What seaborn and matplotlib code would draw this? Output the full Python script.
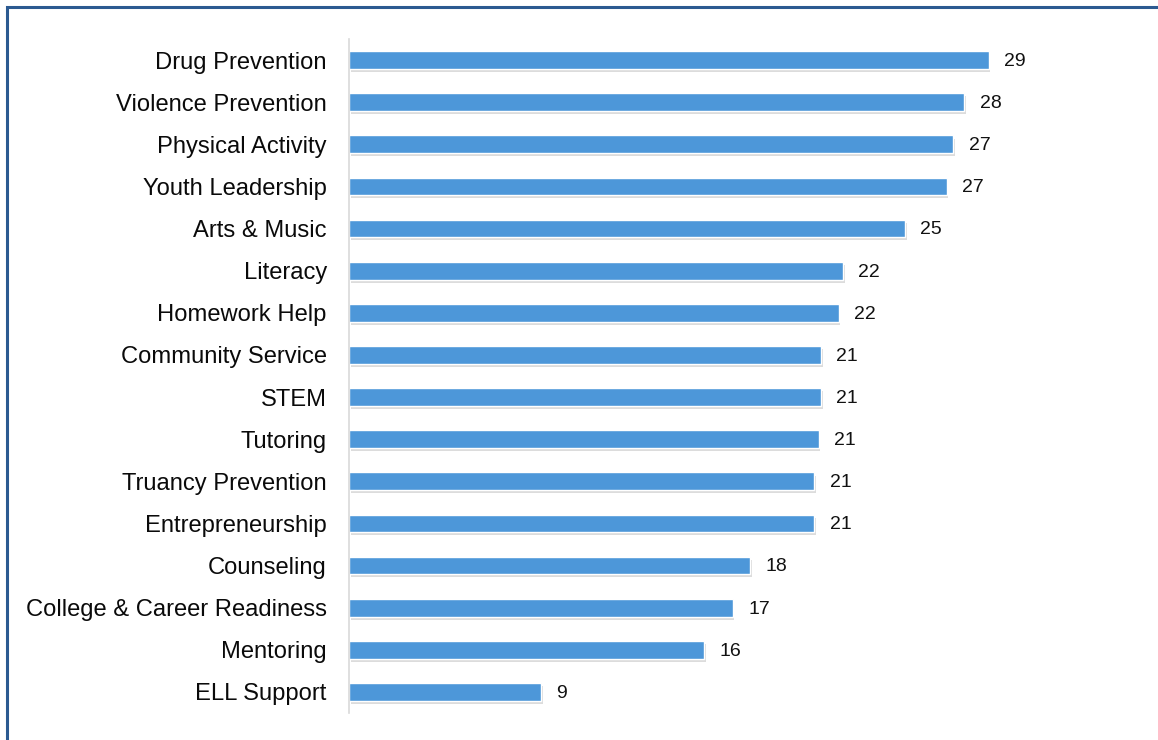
import matplotlib
matplotlib.use("Agg")
import matplotlib.pyplot as plt
import matplotlib.patheffects as pe
from matplotlib.patches import Rectangle
import seaborn as sns
import pandas as pd

programs = [
    "Drug Prevention", "Violence Prevention", "Physical Activity", "Youth Leadership",
    "Arts & Music", "Literacy", "Homework Help", "Community Service", "STEM",
    "Tutoring", "Truancy Prevention", "Entrepreneurship", "Counseling",
    "College & Career Readiness", "Mentoring", "ELL Support",
]
counts = [29.0, 27.9, 27.4, 27.1, 25.2, 22.4, 22.2, 21.4, 21.4, 21.3, 21.1, 21.1,
          18.2, 17.4, 16.1, 8.7]

df = pd.DataFrame({"program": programs, "count": counts})

sns.set_theme(style="white")
plt.rcParams["font.family"] = ["Liberation Sans", "DejaVu Sans"]

fig = plt.figure(figsize=(11.58, 7.4), dpi=100)
ax = fig.add_axes([349 / 1158, 1 - 713 / 740, 772 / 1158, 674 / 740])

bar_color = "#4D97D9"
sns.barplot(data=df, x="count", y="program", orient="h", color=bar_color,
            saturation=1, width=0.42, ax=ax)

for patch in ax.patches:
    patch.set_path_effects([
        pe.SimplePatchShadow(offset=(1.2, -2.2), shadow_rgbFace="#8c8c8c", alpha=0.3),
        pe.Normal(),
    ])

for i, v in enumerate(counts):
    ax.annotate(f"{v:.0f}", xy=(v, i), xytext=(11, -1), textcoords="offset points",
                va="center", ha="left", fontsize=14, color="#111111")

ax.set_xlim(0, 35)
ax.set_ylim(len(programs) - 0.5, -0.5)
ax.set_xlabel("")
ax.set_ylabel("")
ax.set_xticks([])
ax.tick_params(axis="y", length=0, pad=16, labelsize=17.1, labelcolor="#0a0a0a")

for side in ["top", "right", "bottom"]:
    ax.spines[side].set_visible(False)
ax.spines["left"].set_color("#D9D9D9")
ax.spines["left"].set_linewidth(1.2)

# Dark blue frame around the chart area
frame = Rectangle((7.5 / 1158, -0.05), 1.2, 1 - 6.5 / 740 + 0.05,
                  transform=fig.transFigure, fill=False,
                  edgecolor="#2C5A91", linewidth=2.2, clip_on=False)
fig.patches.append(frame)

fig.savefig("out.png", dpi=100, facecolor="white")
